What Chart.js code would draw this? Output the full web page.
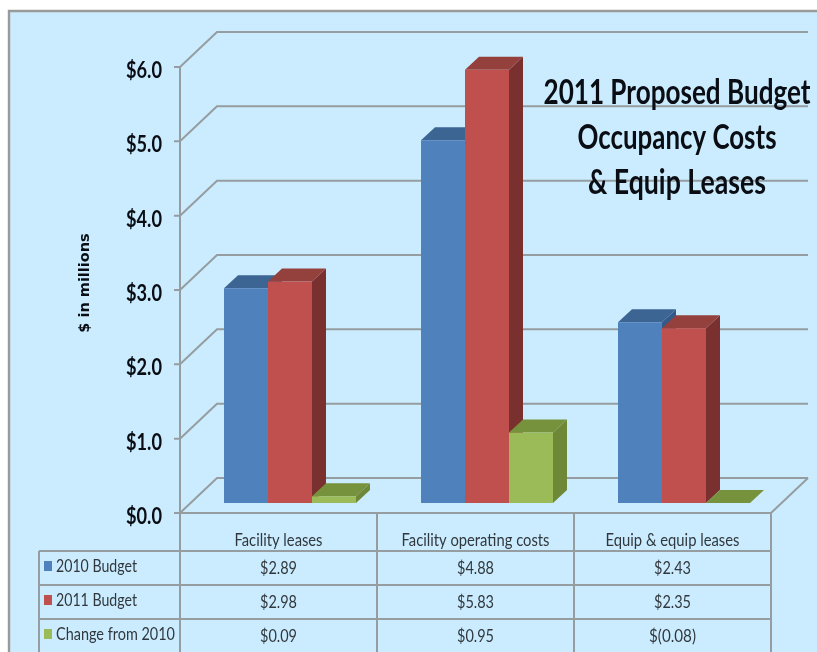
<!DOCTYPE html>
<html><head><meta charset="utf-8">
<style>html,body{margin:0;padding:0;background:#fff;overflow:hidden}#wrap{position:absolute;left:0;top:0;width:817px;height:652px}canvas{display:block;filter:blur(0.55px)}</style>
<script src="https://cdn.jsdelivr.net/npm/chart.js@4/dist/chart.umd.js"></script>
</head><body><div id="wrap"><canvas id="c" width="817" height="652"></canvas></div>
<script>
const categories = ["Facility leases", "Facility operating costs", "Equip & equip leases"];
const seriesNames = ["2010 Budget", "2011 Budget", "Change from 2010"];
const budget2010 = [2.89, 4.88, 2.43];
const budget2011 = [2.98, 5.83, 2.35];
const change2010 = [0.09, 0.95, -0.08];
const yTicks = [0, 1, 2, 3, 4, 5, 6];
const yTickLabels = ["$0.0", "$1.0", "$2.0", "$3.0", "$4.0", "$5.0", "$6.0"];
const titleLines = ["2011 Proposed Budget", "Occupancy Costs", "& Equip Leases"];
const yAxisTitle = "$ in millions";

const fronts = ["#4F81BD", "#C0504D", "#9BBB59"];
const tops = ["#3C6594", "#94403D", "#76923C"];
const sides = ["#345A89", "#7A302E", "#6E8838"];
const GRID = "#959DA1", INK = "#30383E", DARK = "#0A0E14";
const money = v => v < 0 ? "$(" + Math.abs(v).toFixed(2) + ")" : "$" + v.toFixed(2);

const scene = {
  id: "scene",
  beforeDraw(chart) {
    const c = chart.ctx, y = chart.scales.y, a = chart.chartArea;
    const fx = a.left - 11.5, fy = 10, bx = a.left + 25.5, by = -25, rx = a.right + 25.5;
    c.save();
    c.fillStyle = "#fff"; c.fillRect(0, 0, 817, 652);
    c.fillStyle = "#CBECFE"; c.fillRect(9, 11, 808, 641);
    c.strokeStyle = "#9A9A9A"; c.lineWidth = 2.4;
    c.beginPath(); c.moveTo(9, 652); c.lineTo(9, 11); c.lineTo(817, 11); c.stroke();
    c.strokeStyle = GRID; c.lineWidth = 2;
    c.beginPath();
    yTicks.forEach(v => {
      const p = y.getPixelForValue(v);
      c.moveTo(fx - 6, p + fy); c.lineTo(fx, p + fy); c.lineTo(bx, p + by); c.lineTo(rx, p + by);
    });
    const p0 = y.getPixelForValue(0), p6 = y.getPixelForValue(6);
    c.moveTo(fx, p6 + fy); c.lineTo(fx, p0 + fy);
    c.moveTo(rx, p0 + by); c.lineTo(a.right - 11.5, p0 + fy); c.lineTo(fx, p0 + fy);
    c.stroke();
    c.fillStyle = DARK; c.textAlign = "right"; c.textBaseline = "middle";
    c.font = "bold 22px Lato";
    yTicks.forEach((v, i) => c.fillText(yTickLabels[i], fx - 18, y.getPixelForValue(v) + fy + 4, 36));
    c.save();
    c.translate(85, 283); c.rotate(-Math.PI / 2);
    c.textAlign = "center"; c.font = "bold 14.5px 'DejaVu Sans'";
    c.fillText(yAxisTitle, 0, 0, 104);
    c.restore();
    c.restore();
  },
  beforeDatasetsDraw(chart) {
    const c = chart.ctx, y = chart.scales.y, d = 14, h = 13;
    const base = y.getPixelForValue(0);
    c.save();
    chart.data.datasets.forEach((ds, i) => {
      chart.getDatasetMeta(i).data.forEach((bar, j) => {
        const w = bar.width, l = bar.x - w / 2, r = bar.x + w / 2;
        const t = y.getPixelForValue(Math.max(ds.data[j], 0));
        c.fillStyle = sides[i];
        c.beginPath(); c.moveTo(r, t); c.lineTo(r + d, t - h); c.lineTo(r + d, base - h); c.lineTo(r, base); c.closePath(); c.fill();
        c.fillStyle = tops[i];
        c.beginPath(); c.moveTo(l, t); c.lineTo(l + d, t - h); c.lineTo(r + d, t - h); c.lineTo(r, t); c.closePath(); c.fill();
      });
    });
    c.restore();
  },
  afterDraw(chart) {
    const c = chart.ctx, a = chart.chartArea;
    const left = a.left - 11.5, col = (a.right - a.left) / categories.length;
    const rows = [551, 585, 619], label = 39;
    const series = chart.data.datasets;
    c.save();
    c.fillStyle = DARK; c.textAlign = "center"; c.textBaseline = "alphabetic";
    c.font = "bold 34px Lato";
    titleLines.forEach((s, i) => {
      c.fillText(s, 677, 104 + i * 45, [267, 199, 178][i]);
    });
    c.strokeStyle = GRID; c.lineWidth = 2;
    c.beginPath();
    for (let i = 0; i <= categories.length; i++) { c.moveTo(left + i * col, 513); c.lineTo(left + i * col, 652); }
    rows.forEach(r => { c.moveTo(label, r); c.lineTo(left + categories.length * col, r); });
    c.moveTo(label, rows[0]); c.lineTo(label, 652);
    c.stroke();
    c.fillStyle = INK; c.textAlign = "center"; c.textBaseline = "middle";
    c.font = "17px Lato";
    categories.forEach((s, j) => c.fillText(s, left + (j + .5) * col, 541, [88, 148, 134][j]));
    series.forEach((ds, i) => {
      const yy = rows[i] + 16;
      c.fillStyle = fronts[i]; c.fillRect(44, yy - 6, 8, 10);
      c.fillStyle = INK; c.textAlign = "left"; c.font = "17px Lato";
      c.fillText(ds.label, 56, yy, [81, 81, 119][i]);
      c.textAlign = "center";
      ds.data.forEach((v, j) => c.fillText(money(v), left + (j + .5) * col, yy + 2, j === 2 && v < 0 ? 47 : 37));
    });
    c.restore();
  }
};

new Chart(document.getElementById("c"), {
  type: "bar",
  data: {
    labels: categories,
    datasets: [budget2010, budget2011, change2010].map((d, i) => ({
      label: seriesNames[i], data: d, backgroundColor: fronts[i], borderWidth: 0
    }))
  },
  options: {
    responsive: false, animation: false,
    layout: { padding: { left: 191.5, right: 34.5, top: 57, bottom: 149 } },
    datasets: { bar: { categoryPercentage: 132 / 197, barPercentage: 1 } },
    plugins: { legend: { display: false }, tooltip: { enabled: false }, title: { display: false } },
    scales: {
      x: { display: false },
      y: { display: false, min: 0, max: 6, ticks: { stepSize: 1 } }
    }
  },
  plugins: [scene]
});
</script></body></html>
